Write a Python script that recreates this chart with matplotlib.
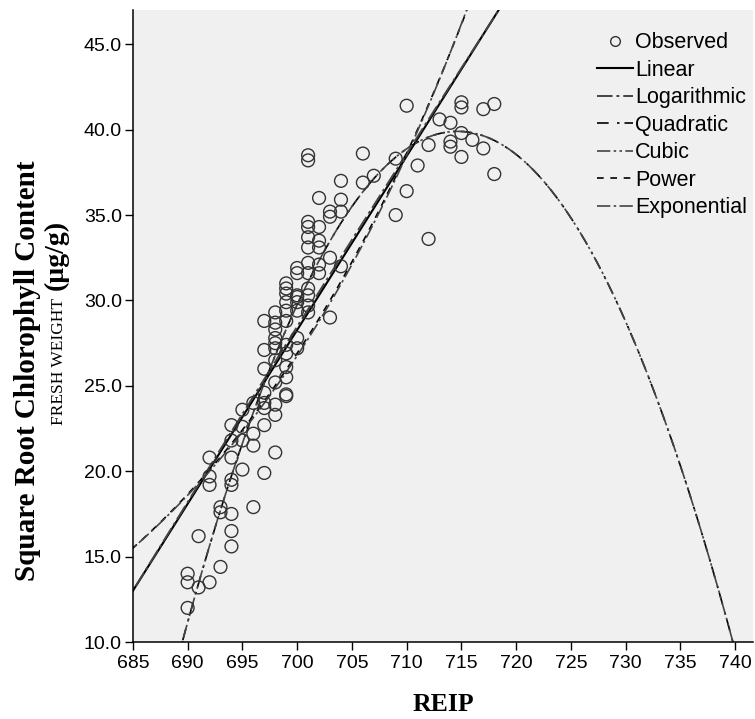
import numpy as np
import matplotlib
matplotlib.use("Agg")
import matplotlib.pyplot as plt
from matplotlib.lines import Line2D

# ---- observed data (REIP, sqrt chlorophyll) ----
reip = [690, 690, 690,
        691, 691,
        692, 692, 692, 692,
        693, 693, 693,
        694, 694, 694, 694, 694, 694, 694, 694,
        695, 695, 695, 695,
        696, 696, 696, 696,
        697, 697, 697, 697, 697, 697, 697, 697,
        698, 698, 698, 698, 698, 698, 698, 698, 698, 698, 698,
        699, 699, 699, 699, 699, 699, 699, 699, 699, 699, 699, 699,
        700, 700, 700, 700, 700, 700, 700, 700,
        701, 701, 701, 701, 701, 701, 701, 701, 701, 701, 701, 701,
        702, 702, 702, 702, 702, 702,
        703, 703, 703, 703,
        704, 704, 704, 704,
        706, 706, 707, 709, 709, 710, 710, 711, 712, 712, 713,
        714, 714, 714, 715, 715, 715, 715, 716, 717, 717, 718, 718]
chl = [12.0, 13.5, 14.0,
       13.2, 16.2,
       13.5, 19.2, 19.7, 20.8,
       14.4, 17.6, 17.9,
       15.6, 16.5, 17.5, 19.2, 19.5, 20.8, 21.8, 22.7,
       20.1, 21.8, 22.6, 23.6,
       17.9, 21.5, 22.2, 24.0,
       19.9, 22.7, 23.7, 24.0, 24.6, 26.0, 27.1, 28.8,
       21.1, 23.3, 23.9, 25.2, 26.5, 27.2, 27.5, 27.8, 28.3, 28.7, 29.3,
       24.4, 24.5, 25.5, 26.1, 26.9, 27.4, 28.8, 29.4, 29.9, 30.4, 30.7, 31.0,
       27.2, 27.8, 29.4, 29.9, 30.2, 30.3, 31.6, 31.9,
       29.3, 29.7, 30.3, 30.7, 31.6, 32.2, 33.1, 33.7, 34.3, 34.6, 38.2, 38.5,
       31.6, 32.1, 33.1, 33.5, 34.3, 36.0,
       29.0, 32.5, 34.9, 35.2,
       32.0, 35.2, 35.9, 37.0,
       36.9, 38.6, 37.3, 35.0, 38.3, 36.4, 41.4, 37.9, 33.6, 39.1, 40.6,
       39.0, 39.3, 40.4, 38.4, 39.8, 41.3, 41.6, 39.4, 38.9, 41.2, 37.4, 41.5]

# ---- fitted model coefficients ----
x_ref = 685.0
linear_coef = [13.0, 1.018]                 # y = a + b (x - 685)
log_coef = [13.0, 714.0]                    # y = a + b ln(x / 685)
quad_coef = [39.9, -0.0473, 714.65]         # y = a + b (x - c)^2
cubic_coef = [39.9, -0.0473, 714.65, 0.0]   # same as quadratic, cubic term dropped
power_coef = [15.5, 25.46]                  # y = a (x / 685)^b
exp_coef = [15.5, 0.0364]                   # y = a exp(b (x - 685))

labels = ["Observed", "Linear", "Logarithmic", "Quadratic", "Cubic", "Power", "Exponential"]
xticks = [685, 690, 695, 700, 705, 710, 715, 720, 725, 730, 735, 740]
yticks = [10, 15, 20, 25, 30, 35, 40, 45]

plt.rcParams['font.family'] = ['Liberation Sans', 'DejaVu Sans']

fig = plt.figure(figsize=(7.55, 7.19), dpi=100)
ax = fig.add_axes([0.176, 0.107, 0.821, 0.879])
ax.set_facecolor('#f0f0f0')

xs = np.linspace(684, 742, 800)
y_lin = linear_coef[0] + linear_coef[1] * (xs - x_ref)
y_log = log_coef[0] + log_coef[1] * np.log(xs / x_ref)
y_quad = quad_coef[0] + quad_coef[1] * (xs - quad_coef[2]) ** 2
y_cub = cubic_coef[0] + cubic_coef[1] * (xs - cubic_coef[2]) ** 2 + cubic_coef[3] * (xs - cubic_coef[2]) ** 3
y_pow = power_coef[0] * (xs / x_ref) ** power_coef[1]
y_exp = exp_coef[0] * np.exp(exp_coef[1] * (xs - x_ref))

styles = [
    dict(color='black', lw=1.5, ls='-'),
    dict(color='#444444', lw=1.4, ls=(0, (8, 2, 1.5, 2))),
    dict(color='black', lw=1.2, ls=(0, (7, 5, 1.5, 3))),
    dict(color='#444444', lw=1.2, ls=(0, (8, 2, 1.5, 2, 1.5, 2))),
    dict(color='black', lw=1.2, ls=(0, (4, 4))),
    dict(color='#444444', lw=1.2, ls=(0, (8, 2, 1.5, 2))),
]
curves = [y_lin, y_log, y_quad, y_cub, y_pow, y_exp]
for yc, st in zip(curves, styles):
    ax.plot(xs, yc, **st)

ax.scatter(reip, chl, s=85, facecolors='none', edgecolors='#333333', linewidths=1.0, zorder=3)

ax.set_xlim(685, 741.6)
ax.set_ylim(10, 47)
ax.set_xticks(xticks)
ax.set_yticks(yticks)
ax.set_yticklabels([f"{v:.1f}" for v in yticks])
ax.tick_params(axis='both', direction='out', length=6, width=1.0, labelsize=14, colors='black')
ax.tick_params(axis='y', pad=2)
for s in ['top', 'right']:
    ax.spines[s].set_visible(False)
for s in ['left', 'bottom']:
    ax.spines[s].set_linewidth(1.1)

handles = [Line2D([], [], marker='o', ls='none', markersize=7, markerfacecolor='none',
                  markeredgecolor='#333333')]
for st in styles:
    handles.append(Line2D([], [], **st))
leg = ax.legend(handles, labels, loc='upper right', bbox_to_anchor=(1.012, 0.985), frameon=False,
                fontsize=15.5, handlelength=1.7, handletextpad=0.1, labelspacing=0.3,
                borderaxespad=0.2)

fig.text(0.587, 0.0195, "REIP", ha='center', va='center', family='Liberation Serif',
         fontweight='bold', fontsize=18.5)
fig.text(0.036, 0.484, "Square Root Chlorophyll Content", rotation=90, ha='center', va='center',
         family='Liberation Serif', fontweight='bold', fontsize=21)
fig.text(0.074, 0.645, "(µg/g)", rotation=90, ha='center', va='center',
         family='Liberation Serif', fontweight='bold', fontsize=20)
fig.text(0.078, 0.497, "FRESH WEIGHT", rotation=90, ha='center', va='center',
         family='Liberation Serif', fontsize=12.5)

fig.savefig("out.png", dpi=100)
